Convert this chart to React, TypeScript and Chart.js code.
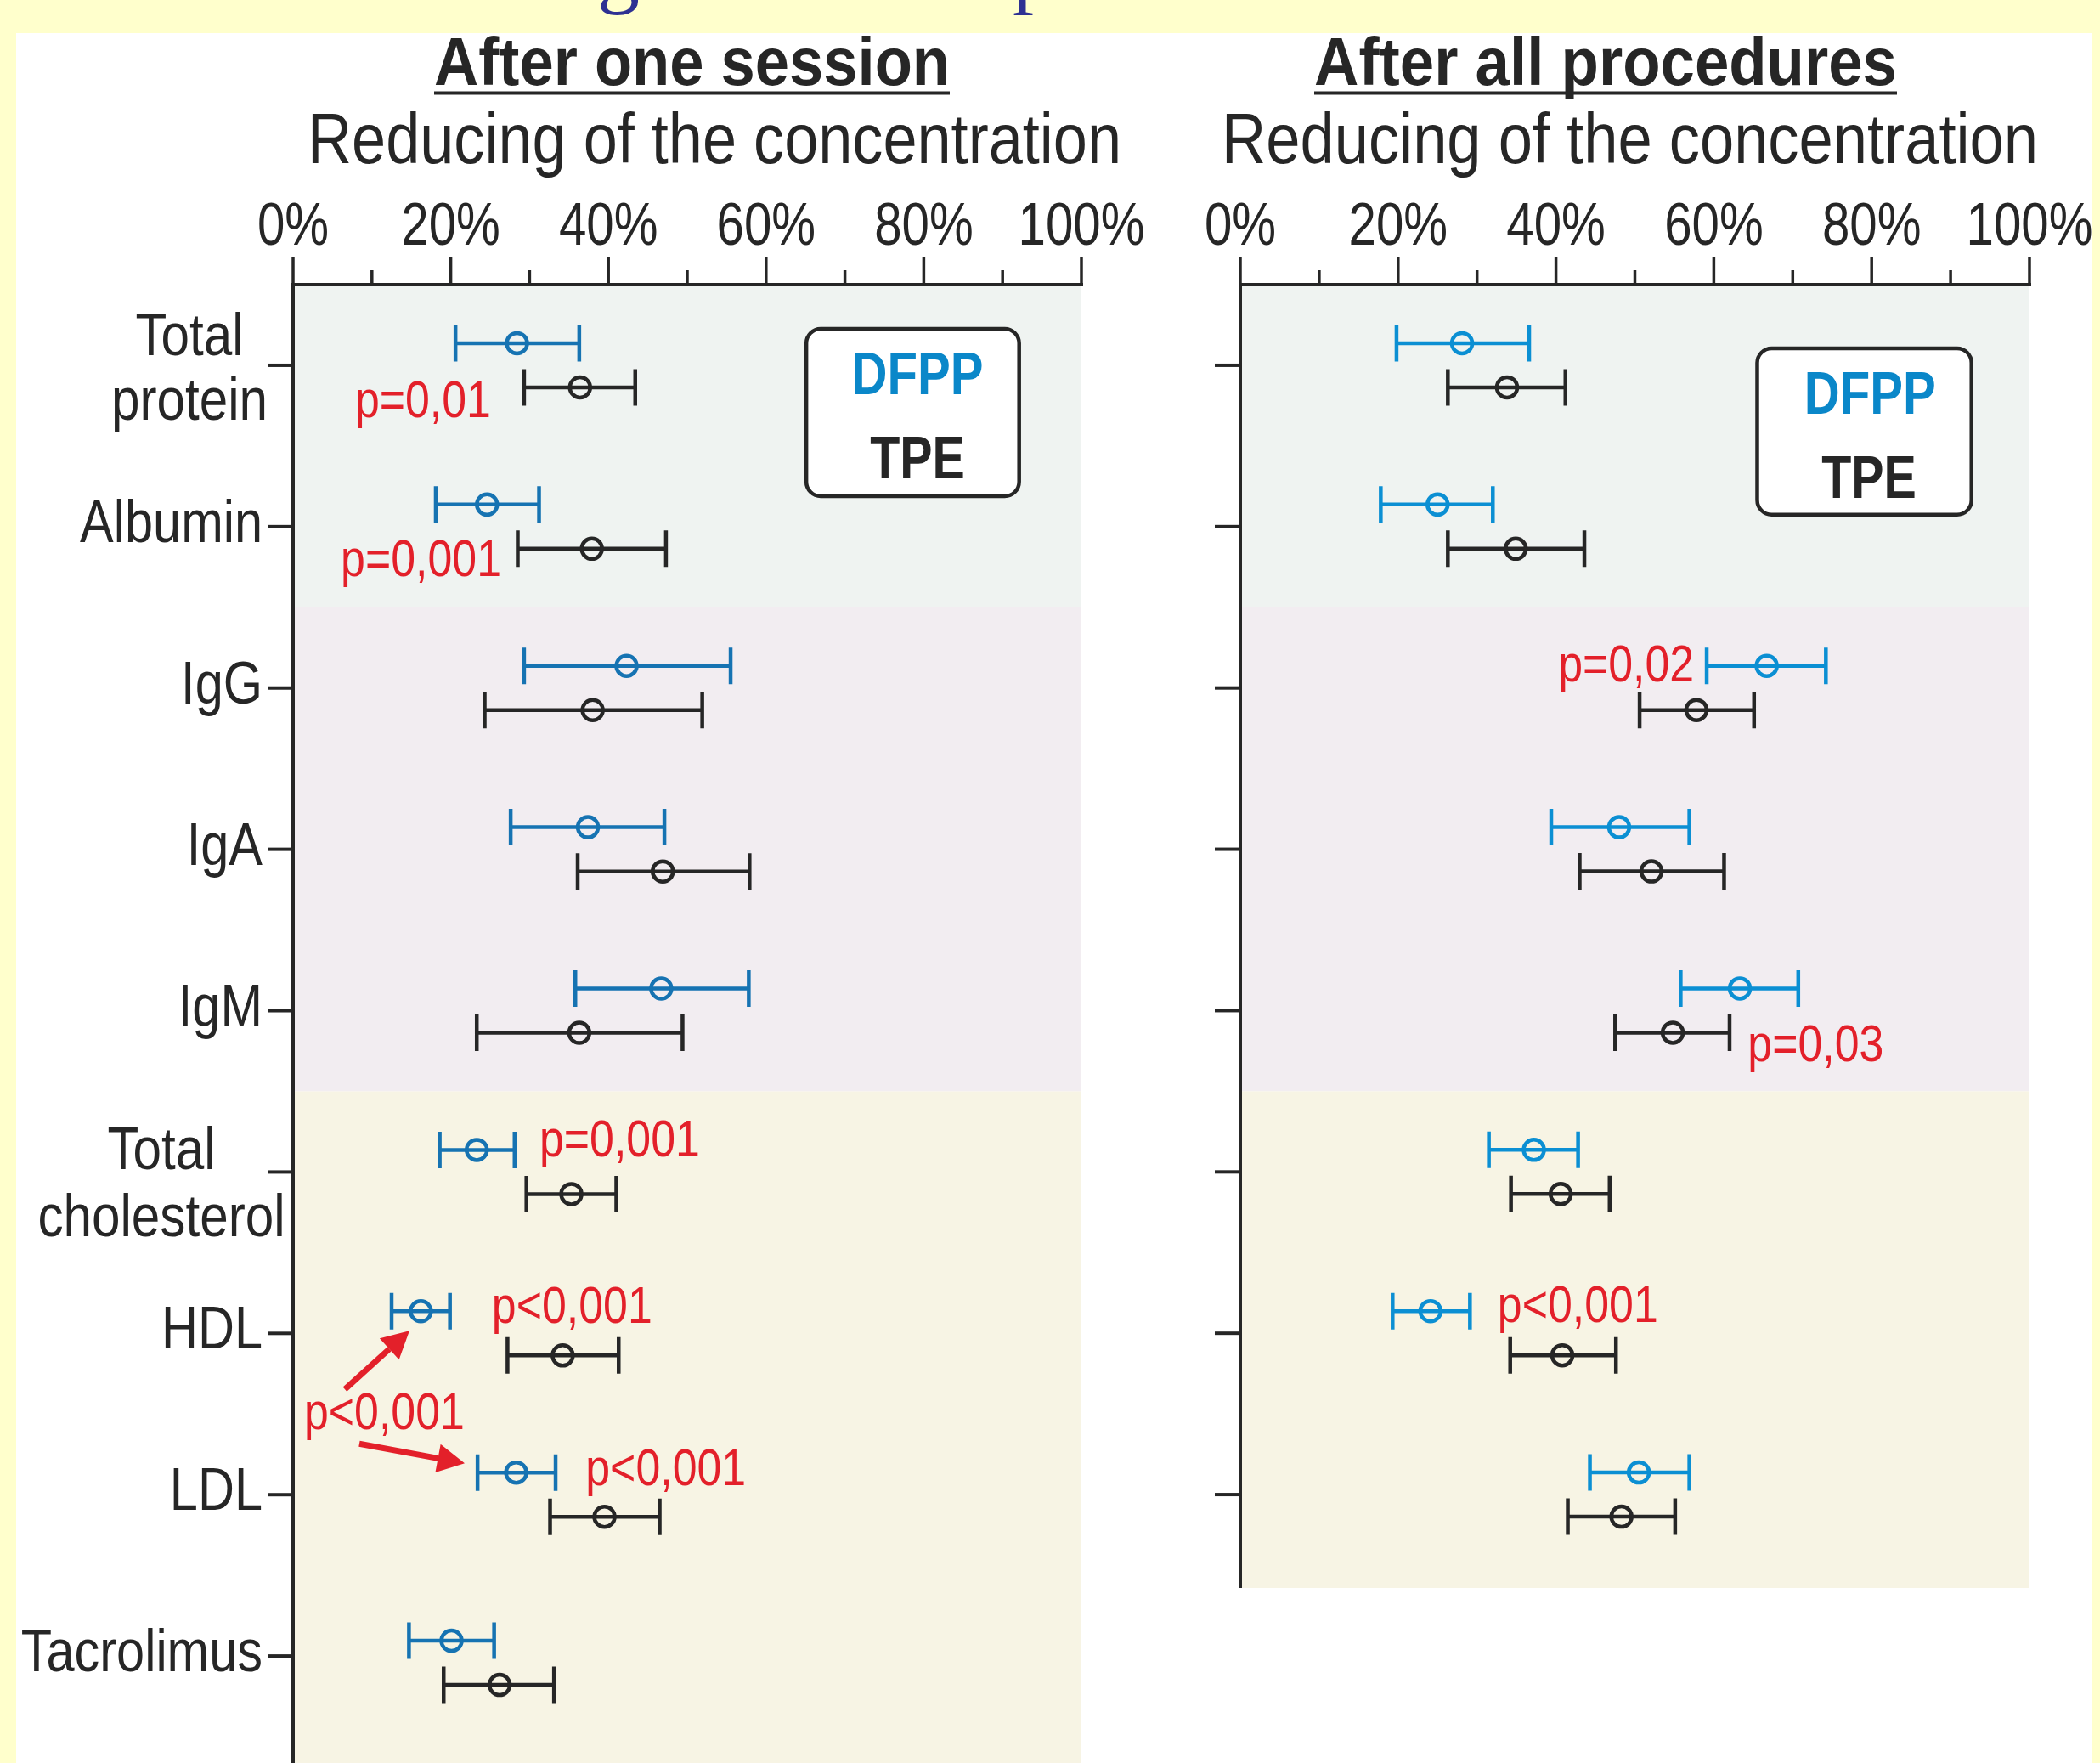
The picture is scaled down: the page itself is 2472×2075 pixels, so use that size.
import React, { useEffect, useRef } from 'react';
import { Chart, registerables } from 'chart.js';

Chart.register(...registerables);

// ---------------- DATA ----------------
const categories = ['Total protein', 'Albumin', 'IgG', 'IgA', 'IgM', 'Total cholesterol', 'HDL', 'LDL', 'Tacrolimus'];
const categoryLabelLines = [['Total', 'protein'], ['Albumin'], ['IgG'], ['IgA'], ['IgM'], ['Total', 'cholesterol'], ['HDL'], ['LDL'], ['Tacrolimus']];
const xTickValues = [0, 20, 40, 60, 80, 100];
const xMinorTickValues = [10, 30, 50, 70, 90];
const xTickLabels = ['0%', '20%', '40%', '60%', '80%', '100%'];
const seriesNames = ['DFPP', 'TPE'];

// After one session (9 categories)
const sessionDfppMean = [28.4, 24.6, 42.3, 37.4, 46.7, 23.3, 16.2, 28.3, 20.1];
const sessionDfppLow = [20.6, 18.1, 29.3, 27.6, 35.8, 18.6, 12.5, 23.4, 14.7];
const sessionDfppHigh = [36.3, 31.2, 55.5, 47.1, 57.8, 28.1, 19.9, 33.3, 25.5];
const sessionTpeMean = [36.4, 37.9, 38.0, 46.9, 36.3, 35.3, 34.2, 39.5, 26.2];
const sessionTpeLow = [29.3, 28.5, 24.3, 36.1, 23.3, 29.6, 27.2, 32.6, 19.1];
const sessionTpeHigh = [43.4, 47.3, 51.9, 57.9, 49.4, 41.0, 41.3, 46.5, 33.1];

// After all procedures (first 8 categories)
const allDfppMean = [28.1, 25.0, 66.7, 48.0, 63.3, 37.2, 24.1, 50.5];
const allDfppLow = [19.8, 17.8, 59.1, 39.4, 55.8, 31.5, 19.3, 44.3];
const allDfppHigh = [36.6, 32.0, 74.2, 56.9, 70.7, 42.8, 29.1, 56.9];
const allTpeMean = [33.8, 34.9, 57.8, 52.1, 54.8, 40.6, 40.8, 48.3];
const allTpeLow = [26.3, 26.3, 50.6, 43.0, 47.5, 34.3, 34.2, 41.5];
const allTpeHigh = [41.2, 43.6, 65.1, 61.3, 62.0, 46.8, 47.6, 55.1];

// p-value annotations (anchored in data coordinates: x in %, y in category units)
const sessionPText = ['p=0,01', 'p=0,001', 'p=0,001', 'p<0,001', 'p<0,001', 'p<0,001'];
const allPText = ['p=0,02', 'p=0,03', 'p<0,001'];

// ---------------- STYLE ----------------
const FONT = '"Liberation Sans", Arial, Helvetica, sans-serif';
const INK = '#262626';
const RED = '#E3202A';
const LEGEND_BLUE = '#0A87C9';
const OFF = 0.137;
// small vertical nudge of a category's pair of bars (category units)
const rowNudge = [0, 0, 0, 0, 0, 0, 0, 0, 0.042];

type Ann = { text: string; x: number; y: number; align: CanvasTextAlign };
type Arrow = { x0: number; y0: number; x1: number; y1: number };
type PanelCfg = {
  padding: { left: number; right: number; top: number; bottom: number };
  yMax: number;
  n: number;
  dfpp: { low: number[]; mean: number[]; high: number[] };
  tpe: { low: number[]; mean: number[]; high: number[] };
  dfppColor: string;
  title: { text: string; x0: number; x1: number };
  subtitle: { text: string; x0: number; x1: number };
  showCategoryLabels: boolean;
  legend: { x0: number; x1: number; y0: number; y1: number; dX: number; dY: number; tX: number; tY: number };
  annotations: Ann[];
  arrows: Arrow[];
  topGlyphs: boolean;
};

function drawText(
  ctx: CanvasRenderingContext2D,
  text: string,
  x: number,
  y: number,
  size: number,
  opts: { bold?: boolean; color?: string; align?: CanvasTextAlign; sx?: number; family?: string } = {}
) {
  ctx.save();
  ctx.font = `${opts.bold ? 'bold ' : ''}${size}px ${opts.family ?? FONT}`;
  ctx.fillStyle = opts.color ?? INK;
  ctx.textBaseline = 'alphabetic';
  ctx.textAlign = opts.align ?? 'left';
  ctx.translate(x, y);
  ctx.scale(opts.sx ?? 1, 1);
  ctx.fillText(text, 0, 0);
  ctx.restore();
}

function drawFit(ctx: CanvasRenderingContext2D, text: string, x0: number, x1: number, y: number, size: number, bold: boolean) {
  ctx.save();
  ctx.font = `${bold ? 'bold ' : ''}${size}px ${FONT}`;
  const w = ctx.measureText(text).width;
  ctx.restore();
  drawText(ctx, text, x0, y, size, { bold, sx: (x1 - x0) / w, align: 'left' });
}

const bands = [
  { from: -0.5, to: 1.5, color: '#EFF3F1' },
  { from: 1.5, to: 4.5, color: '#F2EDF1' },
  { from: 4.5, to: 99, color: '#F7F4E4' },
];

// two-line label layout (centre x, baseline offsets from tick)
const twoLineLayout: Record<number, { cx: number; dy: number[] }> = {
  0: { cx: 223, dy: [-12, 64] },
  5: { cx: 190, dy: [-3, 76] },
};

function panelPlugin(cfg: PanelCfg) {
  return {
    id: 'panelDecor',
    beforeDatasetsDraw(chart: any) {
      const ctx: CanvasRenderingContext2D = chart.ctx;
      const xs = chart.scales.x;
      const ys = chart.scales.y;
      const ca = chart.chartArea;
      ctx.save();
      // background bands
      bands.forEach((b) => {
        const t = ys.getPixelForValue(Math.max(b.from, ys.min));
        const bt = ys.getPixelForValue(Math.min(b.to, ys.max));
        ctx.fillStyle = b.color;
        ctx.fillRect(ca.left, t, ca.right - ca.left, bt - t);
      });
      // axes
      ctx.strokeStyle = INK;
      ctx.lineCap = 'butt';
      ctx.lineWidth = 4;
      ctx.beginPath();
      ctx.moveTo(ca.left - 2, ca.top);
      ctx.lineTo(ca.right + 2, ca.top);
      ctx.stroke();
      ctx.beginPath();
      ctx.moveTo(ca.left, ca.top);
      ctx.lineTo(ca.left, ca.bottom);
      ctx.stroke();
      ctx.lineWidth = 3.5;
      xTickValues.forEach((v) => {
        const px = xs.getPixelForValue(v);
        ctx.beginPath();
        ctx.moveTo(px, ca.top);
        ctx.lineTo(px, ca.top - 33);
        ctx.stroke();
      });
      xMinorTickValues.forEach((v) => {
        const px = xs.getPixelForValue(v);
        ctx.beginPath();
        ctx.moveTo(px, ca.top);
        ctx.lineTo(px, ca.top - 17);
        ctx.stroke();
      });
      xTickValues.forEach((v, k) => {
        drawText(ctx, xTickLabels[k], xs.getPixelForValue(v), ca.top - 47, 71, { align: 'center', sx: 0.82 });
      });
      // category ticks
      ctx.lineWidth = 4;
      for (let i = 0; i < cfg.n; i++) {
        const py = ys.getPixelForValue(i);
        ctx.beginPath();
        ctx.moveTo(ca.left - 30, py);
        ctx.lineTo(ca.left, py);
        ctx.stroke();
      }
      // category labels
      if (cfg.showCategoryLabels) {
        for (let i = 0; i < cfg.n; i++) {
          const py = ys.getPixelForValue(i);
          const lines = categoryLabelLines[i];
          if (lines.length === 1) {
            drawText(ctx, lines[0], ca.left - 36, py + 18, 70, { align: 'right', sx: 0.85 });
          } else {
            const lay = twoLineLayout[i];
            lines.forEach((ln, k) => drawText(ctx, ln, lay.cx, py + lay.dy[k], 70, { align: 'center', sx: 0.86 }));
          }
        }
      }
      // titles
      drawFit(ctx, cfg.title.text, cfg.title.x0, cfg.title.x1, ca.top - 235, 80, true);
      ctx.fillStyle = INK;
      ctx.fillRect(cfg.title.x0, ca.top - 227.5, cfg.title.x1 - cfg.title.x0, 4);
      drawFit(ctx, cfg.subtitle.text, cfg.subtitle.x0, cfg.subtitle.x1, ca.top - 143, 84, false);

      // error bars
      const series = [
        { d: cfg.dfpp, color: cfg.dfppColor, off: -OFF },
        { d: cfg.tpe, color: INK, off: OFF },
      ];
      series.forEach((s) => {
        ctx.strokeStyle = s.color;
        ctx.lineWidth = 4.5;
        for (let i = 0; i < cfg.n; i++) {
          const py = ys.getPixelForValue(i + s.off + rowNudge[i]);
          const xl = xs.getPixelForValue(s.d.low[i]);
          const xh = xs.getPixelForValue(s.d.high[i]);
          ctx.beginPath();
          ctx.moveTo(xl, py);
          ctx.lineTo(xh, py);
          ctx.moveTo(xl, py - 21.5);
          ctx.lineTo(xl, py + 21.5);
          ctx.moveTo(xh, py - 21.5);
          ctx.lineTo(xh, py + 21.5);
          ctx.stroke();
        }
      });
      ctx.restore();
    },
    afterDatasetsDraw(chart: any) {
      const ctx: CanvasRenderingContext2D = chart.ctx;
      const xs = chart.scales.x;
      const ys = chart.scales.y;
      ctx.save();
      // legend box
      const L = cfg.legend;
      const bx0 = xs.getPixelForValue(L.x0);
      const bx1 = xs.getPixelForValue(L.x1);
      const by0 = ys.getPixelForValue(L.y0);
      const by1 = ys.getPixelForValue(L.y1);
      ctx.beginPath();
      (ctx as any).roundRect(bx0, by0, bx1 - bx0, by1 - by0, 17);
      ctx.fillStyle = '#FFFFFF';
      ctx.fill();
      ctx.lineWidth = 4.5;
      ctx.strokeStyle = INK;
      ctx.stroke();
      drawText(ctx, seriesNames[0], xs.getPixelForValue(L.dX), ys.getPixelForValue(L.dY), 70, { bold: true, color: LEGEND_BLUE, align: 'center', sx: 0.83 });
      drawText(ctx, seriesNames[1], xs.getPixelForValue(L.tX), ys.getPixelForValue(L.tY), 70, { bold: true, color: INK, align: 'center', sx: 0.82 });
      // p-values
      cfg.annotations.forEach((a) => {
        drawText(ctx, a.text, xs.getPixelForValue(a.x), ys.getPixelForValue(a.y), 61, { color: RED, align: a.align, sx: 0.85 });
      });
      // arrows
      cfg.arrows.forEach((a) => {
        const x0 = xs.getPixelForValue(a.x0);
        const y0 = ys.getPixelForValue(a.y0);
        const x1 = xs.getPixelForValue(a.x1);
        const y1 = ys.getPixelForValue(a.y1);
        const ang = Math.atan2(y1 - y0, x1 - x0);
        const hl = 32;
        const hw = 17;
        const bxm = x1 - hl * Math.cos(ang);
        const bym = y1 - hl * Math.sin(ang);
        ctx.strokeStyle = RED;
        ctx.fillStyle = RED;
        ctx.lineWidth = 7;
        ctx.beginPath();
        ctx.moveTo(x0, y0);
        ctx.lineTo(bxm, bym);
        ctx.stroke();
        ctx.beginPath();
        ctx.moveTo(x1, y1);
        ctx.lineTo(bxm + hw * Math.sin(ang), bym - hw * Math.cos(ang));
        ctx.lineTo(bxm - hw * Math.sin(ang), bym + hw * Math.cos(ang));
        ctx.closePath();
        ctx.fill();
      });
      if (cfg.topGlyphs) {
        drawText(ctx, 'g', 703, -3, 100, { color: '#2E3192', family: '"Liberation Serif", "Times New Roman", serif', align: 'left' });
        drawText(ctx, 'p', 1192, -3, 100, { color: '#2E3192', family: '"Liberation Serif", "Times New Roman", serif', align: 'left' });
      }
      ctx.restore();
    },
  };
}

function makeChart(canvas: HTMLCanvasElement, cfg: PanelCfg) {
  const pts = (mean: number[], off: number) => mean.slice(0, cfg.n).map((m, i) => ({ x: m, y: i + off + rowNudge[i] }));
  const common = {
    backgroundColor: 'rgba(0,0,0,0)',
    pointRadius: 12,
    pointBorderWidth: 4.5,
    pointHoverRadius: 12,
    showLine: false,
  };
  return new Chart(canvas, {
    type: 'scatter',
    data: {
      datasets: [
        { label: seriesNames[0], data: pts(cfg.dfpp.mean, -OFF), borderColor: cfg.dfppColor, ...common },
        { label: seriesNames[1], data: pts(cfg.tpe.mean, OFF), borderColor: INK, ...common },
      ],
    },
    options: {
      responsive: false,
      animation: false,
      events: [],
      layout: { padding: cfg.padding, autoPadding: false },
      plugins: { legend: { display: false }, tooltip: { enabled: false }, title: { display: false } },
      scales: {
        x: { type: 'linear', min: 0, max: 100, display: false },
        y: { type: 'linear', min: -0.5, max: cfg.yMax, reverse: true, display: false },
      },
    },
    plugins: [panelPlugin(cfg)],
  } as any);
}

export default function App() {
  const leftRef = useRef<HTMLCanvasElement>(null);
  const rightRef = useRef<HTMLCanvasElement>(null);

  useEffect(() => {
    const left = makeChart(leftRef.current!, {
      padding: { left: 345, right: 2472 - 1273, top: 335, bottom: 0 },
      yMax: 8.663,
      n: categories.length,
      dfpp: { low: sessionDfppLow, mean: sessionDfppMean, high: sessionDfppHigh },
      tpe: { low: sessionTpeLow, mean: sessionTpeMean, high: sessionTpeHigh },
      dfppColor: '#1673B2',
      title: { text: 'After one session', x0: 511, x1: 1118 },
      subtitle: { text: 'Reducing of the concentration', x0: 362, x1: 1320 },
      showCategoryLabels: true,
      legend: { x0: 65.1, x1: 92.1, y0: -0.226, y1: 0.811, dX: 79.2, dY: 0.179, tX: 79.2, tY: 0.7 },
      annotations: [
        { text: sessionPText[0], x: 25.1, y: 0.32, align: 'right' },
        { text: sessionPText[1], x: 26.4, y: 1.305, align: 'right' },
        { text: sessionPText[2], x: 31.25, y: 4.903, align: 'left' },
        { text: sessionPText[3], x: 25.2, y: 5.935, align: 'left' },
        { text: sessionPText[4], x: 1.4, y: 6.595, align: 'left' },
        { text: sessionPText[5], x: 37.1, y: 6.94, align: 'left' },
      ],
      arrows: [
        { x0: 6.57, y0: 6.347, x1: 14.76, y1: 5.984 },
        { x0: 8.4, y0: 6.684, x1: 21.77, y1: 6.805 },
      ],
      topGlyphs: true,
    });
    const right = makeChart(rightRef.current!, {
      padding: { left: 1460, right: 2472 - 2389, top: 335, bottom: 2075 - 1869 },
      yMax: 7.579,
      n: allDfppMean.length,
      dfpp: { low: allDfppLow, mean: allDfppMean, high: allDfppHigh },
      tpe: { low: allTpeLow, mean: allTpeMean, high: allTpeHigh },
      dfppColor: '#0B8FD3',
      title: { text: 'After all procedures', x0: 1547, x1: 2233 },
      subtitle: { text: 'Reducing of the concentration', x0: 1438, x1: 2399 },
      showCategoryLabels: false,
      legend: { x0: 65.5, x1: 92.65, y0: -0.105, y1: 0.926, dX: 79.8, dY: 0.3, tX: 79.65, tY: 0.821 },
      annotations: [
        { text: allPText[0], x: 57.5, y: 1.96, align: 'right' },
        { text: allPText[1], x: 64.3, y: 4.316, align: 'left' },
        { text: allPText[2], x: 32.6, y: 5.93, align: 'left' },
      ],
      arrows: [],
      topGlyphs: false,
    });
    return () => {
      left.destroy();
      right.destroy();
    };
  }, []);

  return (
    <div style={{ position: 'absolute', left: 0, top: 0, width: 2472, height: 2075, background: '#FFFFCC', overflow: 'hidden' }}>
      <div style={{ position: 'absolute', left: 19, top: 39, width: 2443, height: 2036, background: '#FFFFFF' }} />
      <canvas ref={leftRef} width={2472} height={2075} style={{ position: 'absolute', left: 0, top: 0 }} />
      <canvas ref={rightRef} width={2472} height={2075} style={{ position: 'absolute', left: 0, top: 0 }} />
    </div>
  );
}
